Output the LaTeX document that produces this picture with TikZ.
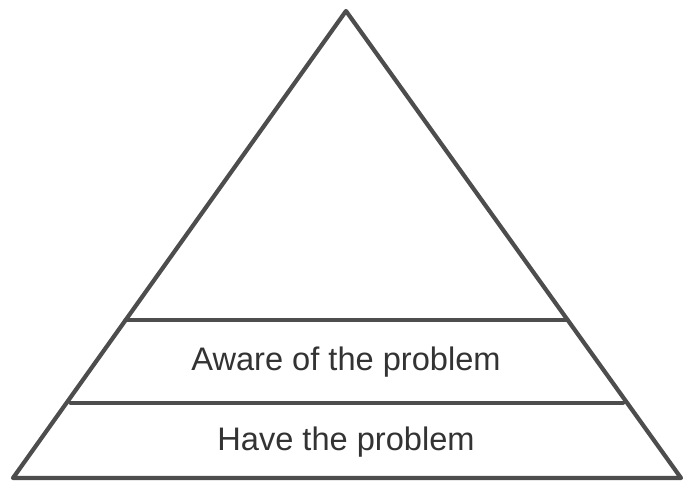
\documentclass[tikz,border=0pt]{standalone}
\usepackage{fontspec}
\setmainfont{Liberation Sans}
\usetikzlibrary{calc}
\definecolor{edgegray}{HTML}{4D4D4D}
\definecolor{textgray}{HTML}{333333}
\tikzset{
  edge/.style={draw=edgegray, line width=4.2pt, line cap=round, line join=round},
  label/.style={text=textgray, font=\fontsize{32.6}{38}\selectfont, inner sep=0pt, anchor=center}
}
\begin{document}
\begin{tikzpicture}[x=1pt,y=-1pt]
\useasboundingbox[fill=white] (0,0) rectangle (694,492);
\coordinate (apex) at (346,11);
\coordinate (bl) at (13,478);
\coordinate (br) at (681,478);
\draw[edge] (apex) -- (bl) -- (br) -- cycle;
\coordinate (l1) at ($(apex)!0.662!(bl)$);
\coordinate (r1) at ($(apex)!0.662!(br)$);
\coordinate (l2) at ($(apex)!0.839!(bl)+(4,0)$);
\coordinate (r2) at ($(apex)!0.839!(br)+(-4,0)$);
\draw[edge] (l1) -- (r1);
\draw[edge] (l2) -- (r2);
\node[label] (aware) at (346,362) {Aware of the problem};
\node[label] (have) at (346,442) {Have the problem};
\end{tikzpicture}
\end{document}
